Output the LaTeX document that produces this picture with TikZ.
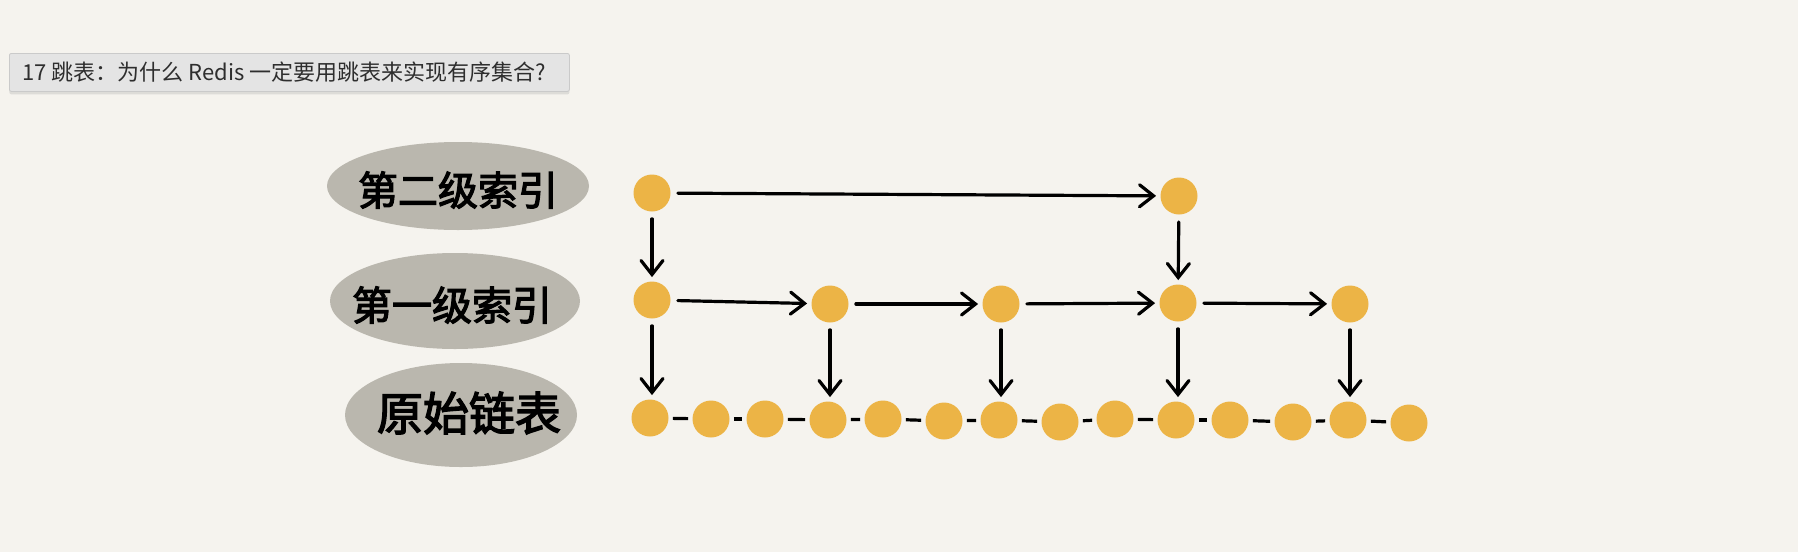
\documentclass[tikz,border=0pt]{standalone}
\usepackage{fontspec}
\newfontfamily\cjk{Noto Sans CJK SC}
\newfontfamily\cjkhand[FakeBold=3]{Noto Sans CJK SC}
\usetikzlibrary{arrows.meta,shapes.geometric,shadows}
\definecolor{bg}{HTML}{F5F3EE}
\definecolor{dotc}{HTML}{ECB446}
\definecolor{blobc}{HTML}{BAB7AE}
\definecolor{boxc}{HTML}{E4E4E4}
\definecolor{boxl}{HTML}{CACACA}
\definecolor{titlec}{HTML}{2E2E2E}
\tikzset{
  dot/.style={circle, fill=dotc, minimum size=18.5pt, inner sep=0pt},
  arr/.style={-{Straight Barb[length=7pt,width=11pt,line cap=round]}, line width=1.6pt, line cap=round, shorten <=3.5pt, shorten >=2pt},
  link/.style={line width=1.6pt, shorten <=2pt, shorten >=2pt},
  blob/.style={ellipse, fill=blobc, inner sep=0pt},
  hand/.style={font=\cjkhand\fontsize{20}{20}\selectfont, text=black},
  titlebox/.style={rectangle, rounded corners=1pt, fill=boxc, draw=boxl, line width=0.4pt, drop shadow={shadow xshift=0pt, shadow yshift=-1.5pt, opacity=0.2}},
}
\begin{document}
\begin{tikzpicture}[x=0.5pt,y=-0.5pt]
\fill[bg] (0,0) rectangle (1798,552);
\useasboundingbox (0,0) rectangle (1798,552);
% title
\node[titlebox, minimum width=280pt, minimum height=19pt, anchor=north west] (tbox) at (9,53) {};
\node[anchor=west, inner sep=0pt, text=titlec, font=\cjk\fontsize{11}{11}\selectfont] (title) at (22,72) {17 跳表：为什么 Redis 一定要用跳表来实现有序集合?};
% label blobs
\node[blob, minimum width=131pt, minimum height=44pt] (lb2) at (458,186) {};
\node[hand] (lt2) at (458,190) {第二级索引};
\node[blob, minimum width=125pt, minimum height=48pt] (lb1) at (455,301) {};
\node[hand] (lt1) at (452,305) {第一级索引};
\node[blob, minimum width=116pt, minimum height=52pt] (lb0) at (461,415) {};
\node[hand, font=\cjkhand\fontsize{23}{23}\selectfont] (lt0) at (469,413) {原始链表};
% base list
\foreach \i/\x/\y in {1/650/418,2/711/419,3/765/419,4/828/420,5/883/419,6/944/421,7/999/420,8/1060/422,9/1115/419,10/1176/420,11/1230/420,12/1293/422,13/1348/420,14/1409/423}
  \node[dot] (c\i) at (\x,\y) {};
\foreach \i [evaluate=\i as \j using int(\i+1)] in {1,...,13}
  \draw[link] (c\i) -- (c\j);
% level 1
\node[dot] (b1) at (652,300) {};
\node[dot] (b2) at (830,304) {};
\node[dot] (b3) at (1001,304) {};
\node[dot] (b4) at (1178,303) {};
\node[dot] (b5) at (1350,304) {};
% level 2
\node[dot] (a1) at (652,193) {};
\node[dot] (a2) at (1179,196) {};
% arrows
\draw[arr] (a1) -- (a2);
\draw[arr] (a1) -- (b1);
\draw[arr] (a2) -- (b4);
\draw[arr] (b1) -- (b2);
\draw[arr] (b2) -- (b3);
\draw[arr] (b3) -- (b4);
\draw[arr] (b4) -- (b5);
\draw[arr] (b1) -- (b1 |- c1.north);
\draw[arr] (b2) -- (b2 |- c4.north);
\draw[arr] (b3) -- (b3 |- c7.north);
\draw[arr] (b4) -- (b4 |- c10.north);
\draw[arr] (b5) -- (b5 |- c13.north);
\end{tikzpicture}
\end{document}
